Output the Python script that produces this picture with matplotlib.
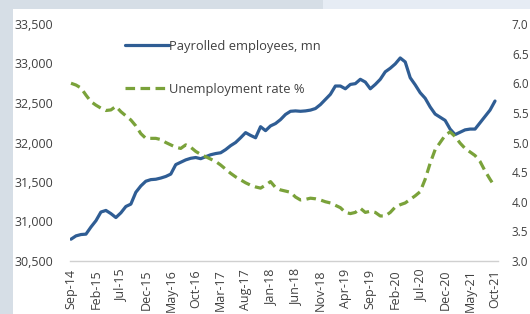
import matplotlib
matplotlib.use("Agg")
import matplotlib.pyplot as plt
from matplotlib.patches import Rectangle
from matplotlib.ticker import FuncFormatter, MultipleLocator, FormatStrFormatter

plt.rcParams['font.family'] = ['Open Sans', 'DejaVu Sans']

mon_names = ['Jan', 'Feb', 'Mar', 'Apr', 'May', 'Jun', 'Jul', 'Aug', 'Sep', 'Oct', 'Nov', 'Dec']
dates = []
m, y = 8, 14  # start Sep-14
for k in range(86):
    dates.append(f"{mon_names[m]}-{y:02d}")
    m += 1
    if m == 12:
        m = 0
        y += 1

payrolled = [30776, 30818, 30835, 30840, 30930, 31010, 31120, 31140, 31100, 31050,
             31110, 31190, 31220, 31370, 31450, 31510, 31530, 31535, 31550, 31570,
             31600, 31720, 31750, 31780, 31800, 31810, 31795, 31820, 31845, 31860,
             31870, 31910, 31960, 32000, 32060, 32125, 32090, 32060, 32200, 32150,
             32210, 32240, 32290, 32355, 32395, 32400, 32395, 32400, 32410, 32430,
             32480, 32545, 32610, 32715, 32715, 32680, 32735, 32745, 32800, 32765,
             32680, 32735, 32800, 32895, 32940, 32995, 33070, 33020, 32820, 32730,
             32630, 32560, 32450, 32360, 32320, 32280, 32170, 32100, 32130, 32160,
             32170, 32170, 32250, 32330, 32410, 32525]

unemployment = [6.00, 5.97, 5.92, 5.80, 5.69, 5.63, 5.58, 5.54, 5.55, 5.61,
                5.52, 5.45, 5.38, 5.28, 5.15, 5.07, 5.07, 5.07, 5.05, 5.00,
                4.96, 4.92, 4.90, 4.96, 4.92, 4.85, 4.80, 4.76, 4.72, 4.68,
                4.62, 4.55, 4.48, 4.42, 4.37, 4.32, 4.28, 4.25, 4.23, 4.28,
                4.34, 4.24, 4.20, 4.18, 4.16, 4.08, 4.03, 4.04, 4.06, 4.05,
                4.03, 4.00, 3.98, 3.94, 3.90, 3.82, 3.80, 3.82, 3.89, 3.82,
                3.84, 3.82, 3.76, 3.76, 3.82, 3.91, 3.95, 3.98, 4.04, 4.10,
                4.17, 4.38, 4.65, 4.88, 5.00, 5.12, 5.18, 5.10, 4.99, 4.90,
                4.84, 4.78, 4.68, 4.52, 4.38, 4.25]

series_labels = ['Payrolled employees, mn', 'Unemployment rate %']

blue = '#2f5d94'
green = '#7aa23a'
txt = '#404040'

W, H = 530, 314
fig = plt.figure(figsize=(W / 100, H / 100), dpi=100, facecolor='white')
# background frame strips
fig.patches.append(Rectangle((0, 0), 13 / W, 1, transform=fig.transFigure,
                             facecolor='#d6dee6', edgecolor='none', zorder=0))
fig.patches.append(Rectangle((0, 1 - 9 / H), 323 / W, 9 / H, transform=fig.transFigure,
                             facecolor='#d6dee6', edgecolor='none', zorder=0))
fig.patches.append(Rectangle((323 / W, 1 - 9 / H), 1 - 323 / W, 9 / H, transform=fig.transFigure,
                             facecolor='#e6ecf4', edgecolor='none', zorder=0))

ax = fig.add_axes([70 / W, 53 / H, 428 / W, 237 / H])
ax.set_facecolor('none')
x = list(range(len(payrolled)))
l1, = ax.plot(x, payrolled, color=blue, lw=2.3, solid_capstyle='round', solid_joinstyle='round')
ax.set_ylim(30500, 33500)
ax.yaxis.set_major_locator(MultipleLocator(500))
ax.yaxis.set_major_formatter(FuncFormatter(lambda v, p: f"{int(v):,}"))
ax.set_xlim(-0.2, 85.6)
ax.set_xticks(x[::5])
ax.set_xticklabels(dates[::5], rotation=90)
for s in ['top', 'left', 'right']:
    ax.spines[s].set_visible(False)
ax.spines['bottom'].set_color('#d0d0d0')
ax.spines['bottom'].set_linewidth(1.0)
ax.tick_params(axis='both', length=0, labelsize=9, colors=txt)
ax.tick_params(axis='y', pad=12)
ax.tick_params(axis='x', pad=6)

ax2 = ax.twinx()
l2, = ax2.plot(x, unemployment, color=green, lw=2.3, dashes=(3.0, 1.7), dash_capstyle='butt')
ax2.set_ylim(3.0, 7.0)
ax2.yaxis.set_major_locator(MultipleLocator(0.5))
ax2.yaxis.set_major_formatter(FormatStrFormatter('%.1f'))
for s in ['top', 'left', 'right', 'bottom']:
    ax2.spines[s].set_visible(False)
ax2.tick_params(axis='y', length=0, labelsize=8.5, colors=txt, pad=10)

leg = ax2.legend([l1, l2], series_labels, loc='upper left', bbox_to_anchor=(0.117, 0.955),
                 frameon=False, handlelength=3.4, handletextpad=0.0, labelspacing=2.3,
                 fontsize=9.3, labelcolor=txt, borderaxespad=0)

fig.savefig('out.png', dpi=100, facecolor=fig.get_facecolor())
